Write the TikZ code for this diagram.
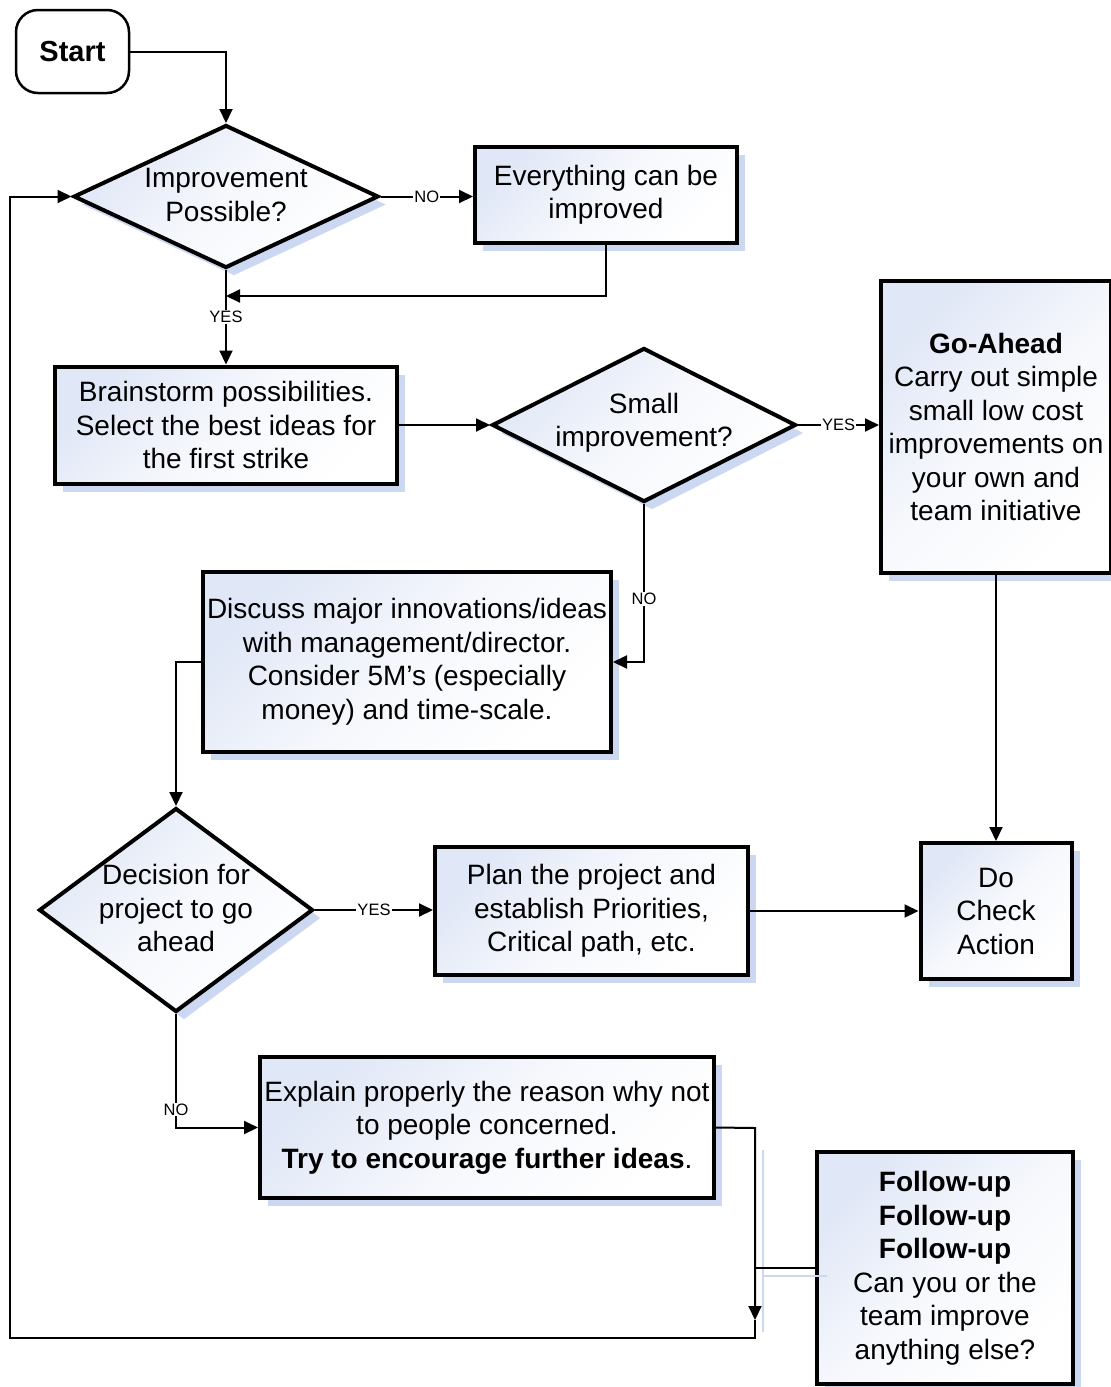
\documentclass[tikz,border=0pt]{standalone}
\usepackage{fontspec}
\setmainfont{Liberation Sans}
\usetikzlibrary{shapes.geometric,arrows.meta,shadows,calc}

\definecolor{shadowblue}{RGB}{204,216,242}
\definecolor{fillblue}{RGB}{224,231,246}

\tikzset{
  body/.style={font=\fontsize{28}{33.5}\selectfont, align=center, inner sep=0pt},
  boxfill/.style={top color=fillblue, bottom color=white, middle color=fillblue!30, shading angle=45},
  boxshadow/.style={general shadow={shadow xshift=8pt, shadow yshift=-8pt, fill=shadowblue}},
  procbox/.style={body, rectangle, draw, line width=4pt, boxfill, boxshadow},
  decision/.style={diamond, draw, line width=4pt, inner sep=0pt, boxfill, boxshadow},
  startbox/.style={body, rectangle, rounded corners=22pt, draw, line width=2.5pt,
                   font=\fontsize{29}{33}\selectfont\bfseries},
  conn/.style={line width=2pt, -{Triangle[length=14pt,width=13pt]}},
  plain/.style={line width=2pt},
  tag/.style={font=\fontsize{16.5}{18}\selectfont, fill=white, inner sep=1pt}
}

\begin{document}
\begin{tikzpicture}[x=1pt, y=-1pt]
\useasboundingbox (0,0) rectangle (1111,1387);
\clip (0,0) rectangle (1111,1387);

% shapes
\node[startbox, minimum width=113pt, minimum height=83pt] (start) at (72.5,51.5) {Start};

\node[decision, minimum width=305pt, minimum height=143pt] (d1) at (226,196.5) {};
\node[body] (d1t) at (226,195) {Improvement\\Possible?};

\node[procbox, minimum width=262pt, minimum height=96pt] (evr) at (606,195) {Everything can be\\improved};

\node[procbox, minimum width=342pt, minimum height=117pt] (brain) at (226,425)
  {Brainstorm possibilities.\\Select the best ideas for\\the first strike};

\node[decision, minimum width=304pt, minimum height=154pt] (d2) at (644,425) {};
\node[body] (d2t) at (644,423) {Small\\improvement?};

\node[procbox, minimum width=230pt, minimum height=292pt] (goa) at (996,427)
  {\textbf{Go-Ahead}\\Carry out simple\\small low cost\\improvements on\\your own and\\team initiative};

\node[procbox, minimum width=408pt, minimum height=180pt] (disc) at (407,662)
  {Discuss major innovations/ideas\\with management/director.\\Consider 5M’s (especially\\money) and time-scale.};

\node[decision, minimum width=274pt, minimum height=204pt] (d3) at (176,910) {};
\node[body] (d3t) at (176,908) {Decision for\\project to go\\ahead};

\node[procbox, minimum width=313pt, minimum height=128pt] (plan) at (591.5,911)
  {Plan the project and\\establish Priorities,\\Critical path, etc.};

\node[procbox, minimum width=151pt, minimum height=136pt] (dca) at (996,911)
  {Do\\Check\\Action};

\node[procbox, minimum width=454pt, minimum height=141pt] (expl) at (487,1127.5)
  {Explain properly the reason why not\\to people concerned.\\\textbf{Try to encourage further ideas}.};

\node[procbox, minimum width=256pt, minimum height=232pt] (fol) at (945,1268)
  {\textbf{Follow-up}\\\textbf{Follow-up}\\\textbf{Follow-up}\\Can you or the\\team improve\\anything else?};

% junction points of the return loop
\coordinate (m1) at (226,296);
\coordinate (jr) at (755,1128);
\coordinate (jt) at (755,1320);
\coordinate (jb) at (755,1338);
\coordinate (jl) at (10,1338);

% faint shadow of the return connector
\draw[shadowblue, line width=1.5pt] (763,1150) -- (763,1332);
\draw[shadowblue, line width=1.5pt] (763,1276) -- (827,1276);

% connectors
\draw[conn] (start.east) -| (d1.north);
\draw[conn] (d1.east) -- node[tag] {NO} (evr.west |- d1.east);
\draw[conn] (evr.south) |- (m1);
\draw[conn] (d1.south) -- node[tag] {YES} (brain.north);
\draw[conn] (brain.east) -- (d2.west);
\draw[conn] (d2.east) -- node[tag] {YES} (goa.west |- d2.east);
\draw[conn] (d2.south) |- node[tag, pos=0.3] {NO} (disc.east);
\draw[conn] (disc.west) -| (d3.north);
\draw[conn] (goa.south) -- (dca.north);
\draw[conn] (d3.east) -- node[tag] {YES} (plan.west |- d3.east);
\draw[conn] (plan.east) -- (dca.west |- plan.east);
\draw[conn] (d3.south) |- node[tag, pos=0.42] {NO} (expl.west);
\draw[conn] (expl.east) -- (jr) -- (jt);
\draw[conn] (jt) -- (jb) -- (jl) |- (d1.west);
\draw[plain] (fol.west) -- (fol.west -| jr);
\end{tikzpicture}
\end{document}
